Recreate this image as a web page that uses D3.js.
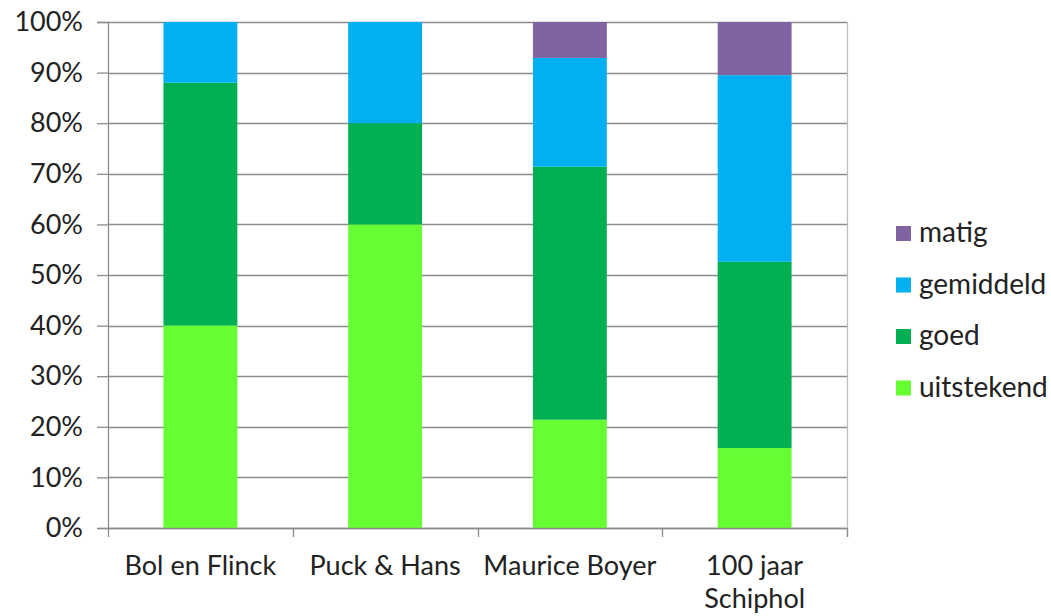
<!DOCTYPE html>
<html>
<head>
<meta charset="utf-8">
<script src="https://cdn.jsdelivr.net/npm/d3@7"></script>
<style>
  body { margin: 0; background: #fff; }
  svg text { font-family: Lato, "Open Sans", sans-serif; fill: #222; }
</style>
</head>
<body>
<div id="chart"></div>
<script>
// data (percent per rating)
const categories = ["Bol en Flinck", "Puck & Hans", "Maurice Boyer", "100 jaar Schiphol"];
const categoryLines = [["Bol en Flinck"], ["Puck & Hans"], ["Maurice Boyer"], ["100 jaar", "Schiphol"]];
const series = ["uitstekend", "goed", "gemiddeld", "matig"];
const colors = ["#66ff33", "#00b050", "#00b0f0", "#8064a2"];
const uitstekend = [40, 60, 21.4, 15.8];
const goed = [48, 20, 50, 36.8];
const gemiddeld = [12, 20, 21.5, 36.9];
const matig = [0, 0, 7.1, 10.5];
const yTicks = [0, 10, 20, 30, 40, 50, 60, 70, 80, 90, 100];

var w = 1051;
var h = 616;
var margin = { left: 108, right: 204, top: 22, bottom: 88 };
var innerW = w - margin.left - margin.right;
var innerH = h - margin.top - margin.bottom;

var rows = categories.map(function (c, i) {
    return { cat: c, uitstekend: uitstekend[i], goed: goed[i], gemiddeld: gemiddeld[i], matig: matig[i] };
});
var stacked = d3.stack().keys(series)(rows);

var x = d3.scaleBand()
    .domain(categories)
    .range([0, innerW])
    .paddingInner(0.6)
    .paddingOuter(0.3);
var y = d3.scaleLinear().domain([0, 100]).range([innerH, 0]);
var color = d3.scaleOrdinal().domain(series).range(colors);

var svg = d3.select("#chart").append("svg")
    .attr("width", w)
    .attr("height", h);

var g = svg.append("g").attr("transform", "translate(" + margin.left + "," + margin.top + ")");

// gridlines
g.append("g")
    .selectAll("line")
    .data(yTicks)
    .enter()
    .append("line")
    .attr("x1", 0)
    .attr("x2", innerW)
    .attr("y1", function (d) { return Math.round(y(d)) + 0.5; })
    .attr("y2", function (d) { return Math.round(y(d)) + 0.5; })
    .style("stroke", "#8c8c8c")
    .style("stroke-width", 1.3);

// right border
g.append("line")
    .attr("x1", innerW + 0.5).attr("x2", innerW + 0.5)
    .attr("y1", 0).attr("y2", innerH + 9)
    .style("stroke", "#bdbdbd")
    .style("stroke-width", 1.3);

// bars
g.append("g")
    .selectAll("g")
    .data(stacked)
    .enter()
    .append("g")
    .attr("fill", function (d) { return color(d.key); })
    .selectAll("rect")
    .data(function (d) { return d; })
    .enter()
    .append("rect")
    .attr("x", function (d) { return x(d.data.cat); })
    .attr("width", x.bandwidth())
    .attr("y", function (d) { return y(d[1]); })
    .attr("height", function (d) { return y(d[0]) - y(d[1]); });

// y axis
var yAxis = g.append("g")
    .call(d3.axisLeft(y)
        .tickValues(yTicks)
        .tickSize(11)
        .tickPadding(14)
        .tickFormat(function (d) { return d + "%"; }));
yAxis.select(".domain").style("stroke", "#8c8c8c").style("stroke-width", 1.3);
yAxis.selectAll(".tick line").style("stroke", "#8c8c8c").style("stroke-width", 1.3);
yAxis.selectAll("text").style("font-size", "27px").attr("fill", "#222");

// x axis line + boundary ticks
var step = x.step();
var bounds = categories.map(function (c) { return x(c) - step * 0.3; });
bounds.push(innerW);
g.append("line")
    .attr("x1", 0).attr("x2", innerW)
    .attr("y1", innerH + 0.5).attr("y2", innerH + 0.5)
    .style("stroke", "#8c8c8c")
    .style("stroke-width", 1.3);
g.append("g")
    .selectAll("line")
    .data(bounds)
    .enter()
    .append("line")
    .attr("x1", function (d) { return Math.round(d) + 0.5; })
    .attr("x2", function (d) { return Math.round(d) + 0.5; })
    .attr("y1", innerH)
    .attr("y2", innerH + 9)
    .style("stroke", "#8c8c8c")
    .style("stroke-width", 1.3);

// category labels
var labels = g.append("g")
    .selectAll("text")
    .data(categories)
    .enter()
    .append("text")
    .attr("text-anchor", "middle")
    .attr("x", function (d) { return x(d) + x.bandwidth() / 2; })
    .attr("y", innerH + 47)
    .style("font-size", "27px");
labels.each(function (d, i) {
    var t = d3.select(this);
    categoryLines[i].forEach(function (line, j) {
        t.append("tspan")
            .attr("x", x(d) + x.bandwidth() / 2)
            .attr("dy", j === 0 ? 0 : 33)
            .text(line);
    });
});

// legend (top to bottom: matig .. uitstekend)
var legendKeys = series.slice().reverse();
var legend = svg.append("g").attr("transform", "translate(896,226)");
var item = legend.selectAll("g")
    .data(legendKeys)
    .enter()
    .append("g")
    .attr("transform", function (d, i) { return "translate(0," + (i * 51.5) + ")"; });
item.append("rect")
    .attr("width", 15)
    .attr("height", 15)
    .attr("fill", function (d) { return color(d); });
item.append("text")
    .attr("x", 23)
    .attr("y", 16)
    .style("font-size", "28px")
    .text(function (d) { return d; });
</script>
</body>
</html>
